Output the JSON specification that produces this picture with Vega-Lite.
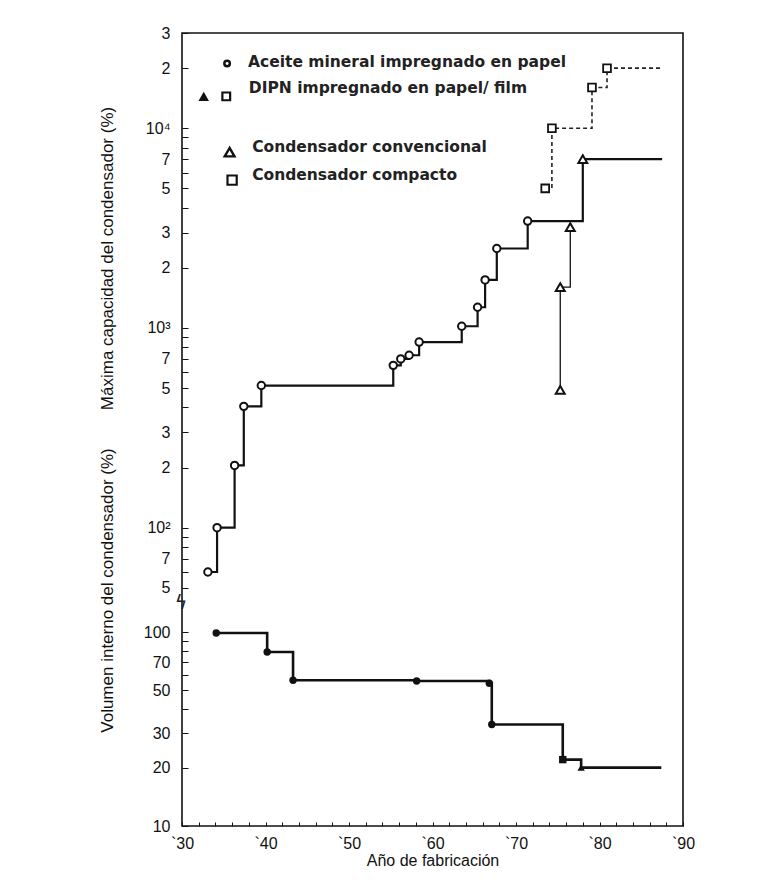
{
  "$schema": "https://vega.github.io/schema/vega-lite/v6.json",
  "width": 501,
  "height": 793,
  "autosize": "none",
  "padding": {"left": 182, "top": 33, "right": 101, "bottom": 68},
  "background": "white",
  "config": {
    "font": "Liberation Sans",
    "view": {"stroke": "#111", "strokeWidth": 1.6},
    "axis": {
      "labelFont": "Liberation Sans", "labelFontSize": 16, "labelColor": "#111",
      "titleFont": "Liberation Sans", "titleFontSize": 17, "titleFontWeight": "normal", "titleColor": "#111",
      "domain": false, "grid": false, "tickColor": "#111",
      "labelFlush": false, "labelOverlap": false
    }
  },
  "datasets": {
    "envolvente": [
      {"year": 33.1, "cap": 60, "tipo": "aceite"},
      {"year": 34.2, "cap": 100, "tipo": "aceite"},
      {"year": 36.3, "cap": 205, "tipo": "aceite"},
      {"year": 37.4, "cap": 405, "tipo": "aceite"},
      {"year": 39.5, "cap": 515, "tipo": "aceite"},
      {"year": 55.3, "cap": 650, "tipo": "aceite"},
      {"year": 56.2, "cap": 700, "tipo": "aceite"},
      {"year": 57.2, "cap": 730, "tipo": "aceite"},
      {"year": 58.4, "cap": 850, "tipo": "aceite"},
      {"year": 63.5, "cap": 1020, "tipo": "aceite"},
      {"year": 65.4, "cap": 1270, "tipo": "aceite"},
      {"year": 66.3, "cap": 1740, "tipo": "aceite"},
      {"year": 67.7, "cap": 2500, "tipo": "aceite"},
      {"year": 71.4, "cap": 3430, "tipo": "aceite"},
      {"year": 78.0, "cap": 7000, "tipo": "dipn"},
      {"year": 87.5, "cap": 7000, "tipo": "fin"}
    ],
    "dipn": [
      {"year": 75.3, "cap": 490, "tramo": "serie"},
      {"year": 75.3, "cap": 1600, "tramo": "serie"},
      {"year": 76.5, "cap": 3200, "tramo": "serie"},
      {"year": 78.0, "cap": 7000, "tramo": "envolvente"}
    ],
    "compacto": [
      {"year": 73.5, "cap": 5000, "tipo": "cuadrado"},
      {"year": 74.3, "cap": 10000, "tipo": "cuadrado"},
      {"year": 79.1, "cap": 16000, "tipo": "cuadrado"},
      {"year": 80.9, "cap": 20000, "tipo": "cuadrado"},
      {"year": 87.6, "cap": 20000, "tipo": "fin"}
    ],
    "volumen": [
      {"year": 34.1, "vol": 99, "tipo": "circulo"},
      {"year": 40.2, "vol": 79, "tipo": "circulo"},
      {"year": 43.3, "vol": 56.5, "tipo": "circulo"},
      {"year": 58.1, "vol": 56, "tipo": "circulo"},
      {"year": 66.8, "vol": 54.5, "tipo": "circulo"},
      {"year": 67.1, "vol": 33.4, "tipo": "circulo"},
      {"year": 75.6, "vol": 22, "tipo": "cuadrado"},
      {"year": 77.8, "vol": 20, "tipo": "triangulo"},
      {"year": 87.4, "vol": 20, "tipo": "fin"}
    ],
    "uno": [{}]
  },
  "layer": [
    {
      "data": {"name": "volumen"},
      "mark": {"type": "line", "interpolate": "step-after", "color": "#111", "strokeWidth": 2.6},
      "encoding": {
        "x": {
          "field": "year", "type": "quantitative",
          "scale": {"domain": [30, 90], "nice": false, "zero": false},
          "axis": {
            "orient": "bottom",
            "values": [30, 32, 34, 36, 38, 40, 42, 44, 46, 48, 50, 52, 54, 56, 58, 60, 62, 64, 66, 68, 70, 72, 74, 76, 78, 80, 82, 84, 86, 88, 90],
            "labelExpr": "datum.value % 10 == 0 ? '`' + datum.value : ''",
            "labelOverlap": false,
            "tickSize": -4,
            "labelPadding": 13,
            "labelFontSize": 16,
            "title": "Año de fabricación",
            "titleFontSize": 16,
            "titlePadding": 1
          }
        },
        "y": {
          "field": "vol", "type": "quantitative",
          "scale": {"type": "log", "domain": [10, 138], "range": [793, 572], "nice": false},
          "axis": {
            "orient": "left",
            "title": "Volumen interno del condensador (%)",
            "titleX": -66, "titleY": 557,
            "values": [10, 20, 30, 40, 50, 60, 70, 80, 90, 100],
            "labelExpr": "datum.value == 40 || datum.value == 60 || datum.value == 80 || datum.value == 90 ? '' : datum.label",
            "tickSize": -6,
            "labelPadding": 18
          }
        }
      }
    },
    {
      "data": {"name": "volumen"},
      "transform": [{"filter": "datum.tipo != 'fin'"}],
      "mark": {"type": "point", "filled": true, "color": "#111", "size": 55, "opacity": 1},
      "encoding": {
        "x": {"field": "year", "type": "quantitative", "scale": {"domain": [30, 90], "nice": false, "zero": false}, "axis": null},
        "y": {"field": "vol", "type": "quantitative", "scale": {"type": "log", "domain": [10, 138], "range": [793, 572], "nice": false}, "axis": null},
        "shape": {"field": "tipo", "type": "nominal", "scale": {"domain": ["circulo", "cuadrado", "triangulo"], "range": ["circle", "square", "triangle-up"]}, "legend": null}
      }
    },
    {
      "data": {"name": "envolvente"},
      "mark": {"type": "line", "interpolate": "step-after", "color": "#111", "strokeWidth": 2.2},
      "encoding": {
        "x": {"field": "year", "type": "quantitative", "scale": {"domain": [30, 90], "nice": false, "zero": false}, "axis": null},
        "y": {
          "field": "cap", "type": "quantitative",
          "scale": {"type": "log", "domain": [41, 30000], "range": [572, 0], "nice": false},
          "axis": {
            "orient": "left",
            "title": "Máxima capacidad del condensador (%)",
            "titleX": -66, "titleY": 225,
            "values": [50, 60, 70, 80, 90, 100, 200, 300, 400, 500, 600, 700, 800, 900, 1000, 2000, 3000, 4000, 5000, 6000, 7000, 8000, 9000, 10000, 20000, 30000],
            "labelExpr": "datum.value == 30000 ? '3' : datum.value == 20000 ? '2' : datum.value == 10000 ? '10⁴' : datum.value == 7000 ? '7' : datum.value == 5000 ? '5' : datum.value == 3000 ? '3' : datum.value == 2000 ? '2' : datum.value == 1000 ? '10³' : datum.value == 700 ? '7' : datum.value == 500 ? '5' : datum.value == 300 ? '3' : datum.value == 200 ? '2' : datum.value == 100 ? '10²' : datum.value == 70 ? '7' : datum.value == 50 ? '5' : ''",
            "tickSize": -6,
            "labelPadding": 18
          }
        }
      }
    },
    {
      "data": {"name": "dipn"},
      "transform": [{"filter": "datum.tramo == 'serie'"}],
      "mark": {"type": "line", "interpolate": "step-after", "color": "#111", "strokeWidth": 1.3},
      "encoding": {
        "x": {"field": "year", "type": "quantitative", "scale": {"domain": [30, 90], "nice": false, "zero": false}, "axis": null},
        "y": {"field": "cap", "type": "quantitative", "scale": {"type": "log", "domain": [41, 30000], "range": [572, 0], "nice": false}, "axis": null}
      }
    },
    {
      "data": {"name": "compacto"},
      "mark": {"type": "line", "interpolate": "step-after", "color": "#222", "strokeWidth": 1.6, "strokeDash": [4, 3]},
      "encoding": {
        "x": {"field": "year", "type": "quantitative", "scale": {"domain": [30, 90], "nice": false, "zero": false}, "axis": null},
        "y": {"field": "cap", "type": "quantitative", "scale": {"type": "log", "domain": [41, 30000], "range": [572, 0], "nice": false}, "axis": null}
      }
    },
    {
      "data": {"name": "envolvente"},
      "transform": [{"filter": "datum.tipo == 'aceite'"}],
      "mark": {"type": "point", "shape": "circle", "filled": true, "fill": "white", "stroke": "#111", "strokeWidth": 2, "size": 55, "opacity": 1},
      "encoding": {
        "x": {"field": "year", "type": "quantitative", "scale": {"domain": [30, 90], "nice": false, "zero": false}, "axis": null},
        "y": {"field": "cap", "type": "quantitative", "scale": {"type": "log", "domain": [41, 30000], "range": [572, 0], "nice": false}, "axis": null}
      }
    },
    {
      "data": {"name": "dipn"},
      "mark": {"type": "point", "shape": "triangle-up", "filled": true, "fill": "white", "stroke": "#111", "strokeWidth": 2, "size": 80, "opacity": 1},
      "encoding": {
        "x": {"field": "year", "type": "quantitative", "scale": {"domain": [30, 90], "nice": false, "zero": false}, "axis": null},
        "y": {"field": "cap", "type": "quantitative", "scale": {"type": "log", "domain": [41, 30000], "range": [572, 0], "nice": false}, "axis": null}
      }
    },
    {
      "data": {"name": "compacto"},
      "transform": [{"filter": "datum.tipo != 'fin'"}],
      "mark": {"type": "point", "shape": "square", "filled": true, "fill": "white", "stroke": "#111", "strokeWidth": 1.8, "size": 60, "opacity": 1},
      "encoding": {
        "x": {"field": "year", "type": "quantitative", "scale": {"domain": [30, 90], "nice": false, "zero": false}, "axis": null},
        "y": {"field": "cap", "type": "quantitative", "scale": {"type": "log", "domain": [41, 30000], "range": [572, 0], "nice": false}, "axis": null}
      }
    },
    {
      "data": {"name": "uno"},
      "mark": {"type": "point", "shape": "circle", "filled": true, "fill": "white", "stroke": "#111", "strokeWidth": 2.5, "size": 30, "opacity": 1},
      "encoding": {
        "x": {"datum": 35.4, "type": "quantitative", "scale": {"domain": [30, 90], "nice": false, "zero": false}, "axis": null},
        "y": {"datum": 21130, "type": "quantitative", "scale": {"type": "log", "domain": [41, 30000], "range": [572, 0], "nice": false}, "axis": null}
      }
    },
    {
      "data": {"name": "uno"},
      "mark": {"type": "text", "text": "Aceite mineral impregnado en papel", "align": "left", "baseline": "middle", "fontSize": 15.5, "font": "DejaVu Sans", "fontWeight": "bold", "color": "#222"},
      "encoding": {
        "x": {"datum": 37.9, "type": "quantitative", "scale": {"domain": [30, 90], "nice": false, "zero": false}, "axis": null},
        "y": {"datum": 21380, "type": "quantitative", "scale": {"type": "log", "domain": [41, 30000], "range": [572, 0], "nice": false}, "axis": null}
      }
    },
    {
      "data": {"name": "uno"},
      "mark": {"type": "point", "shape": "triangle-up", "filled": true, "color": "#111", "size": 110, "opacity": 1},
      "encoding": {
        "x": {"datum": 32.6, "type": "quantitative", "scale": {"domain": [30, 90], "nice": false, "zero": false}, "axis": null},
        "y": {"datum": 14450, "type": "quantitative", "scale": {"type": "log", "domain": [41, 30000], "range": [572, 0], "nice": false}, "axis": null}
      }
    },
    {
      "data": {"name": "uno"},
      "mark": {"type": "point", "shape": "square", "filled": true, "fill": "white", "stroke": "#111", "strokeWidth": 2.2, "size": 60, "opacity": 1},
      "encoding": {
        "x": {"datum": 35.3, "type": "quantitative", "scale": {"domain": [30, 90], "nice": false, "zero": false}, "axis": null},
        "y": {"datum": 14450, "type": "quantitative", "scale": {"type": "log", "domain": [41, 30000], "range": [572, 0], "nice": false}, "axis": null}
      }
    },
    {
      "data": {"name": "uno"},
      "mark": {"type": "text", "text": "DIPN impregnado en papel/ film", "align": "left", "baseline": "middle", "fontSize": 15.5, "font": "DejaVu Sans", "fontWeight": "bold", "color": "#222"},
      "encoding": {
        "x": {"datum": 38.0, "type": "quantitative", "scale": {"domain": [30, 90], "nice": false, "zero": false}, "axis": null},
        "y": {"datum": 15850, "type": "quantitative", "scale": {"type": "log", "domain": [41, 30000], "range": [572, 0], "nice": false}, "axis": null}
      }
    },
    {
      "data": {"name": "uno"},
      "mark": {"type": "point", "shape": "triangle-up", "filled": true, "fill": "white", "stroke": "#111", "strokeWidth": 2.4, "size": 95, "opacity": 1},
      "encoding": {
        "x": {"datum": 35.7, "type": "quantitative", "scale": {"domain": [30, 90], "nice": false, "zero": false}, "axis": null},
        "y": {"datum": 7590, "type": "quantitative", "scale": {"type": "log", "domain": [41, 30000], "range": [572, 0], "nice": false}, "axis": null}
      }
    },
    {
      "data": {"name": "uno"},
      "mark": {"type": "text", "text": "Condensador convencional", "align": "left", "baseline": "middle", "fontSize": 15.5, "font": "DejaVu Sans", "fontWeight": "bold", "color": "#222"},
      "encoding": {
        "x": {"datum": 38.4, "type": "quantitative", "scale": {"domain": [30, 90], "nice": false, "zero": false}, "axis": null},
        "y": {"datum": 8035, "type": "quantitative", "scale": {"type": "log", "domain": [41, 30000], "range": [572, 0], "nice": false}, "axis": null}
      }
    },
    {
      "data": {"name": "uno"},
      "mark": {"type": "point", "shape": "square", "filled": true, "fill": "white", "stroke": "#111", "strokeWidth": 2.2, "size": 85, "opacity": 1},
      "encoding": {
        "x": {"datum": 36.0, "type": "quantitative", "scale": {"domain": [30, 90], "nice": false, "zero": false}, "axis": null},
        "y": {"datum": 5500, "type": "quantitative", "scale": {"type": "log", "domain": [41, 30000], "range": [572, 0], "nice": false}, "axis": null}
      }
    },
    {
      "data": {"name": "uno"},
      "mark": {"type": "text", "text": "Condensador compacto", "align": "left", "baseline": "middle", "fontSize": 15.5, "font": "DejaVu Sans", "fontWeight": "bold", "color": "#222"},
      "encoding": {
        "x": {"datum": 38.4, "type": "quantitative", "scale": {"domain": [30, 90], "nice": false, "zero": false}, "axis": null},
        "y": {"datum": 5820, "type": "quantitative", "scale": {"type": "log", "domain": [41, 30000], "range": [572, 0], "nice": false}, "axis": null}
      }
    },
    {
      "data": {"name": "uno"},
      "mark": {"type": "text", "text": "ϟ", "align": "center", "baseline": "middle", "fontSize": 19, "font": "DejaVu Sans", "color": "#222", "dx": -1},
      "encoding": {
        "x": {"datum": 30, "type": "quantitative", "scale": {"domain": [30, 90], "nice": false, "zero": false}, "axis": null},
        "y": {"datum": 42, "type": "quantitative", "scale": {"type": "log", "domain": [41, 30000], "range": [572, 0], "nice": false}, "axis": null}
      }
    }
  ],
  "resolve": {"scale": {"x": "independent", "y": "independent"}, "axis": {"x": "independent", "y": "independent"}}
}
